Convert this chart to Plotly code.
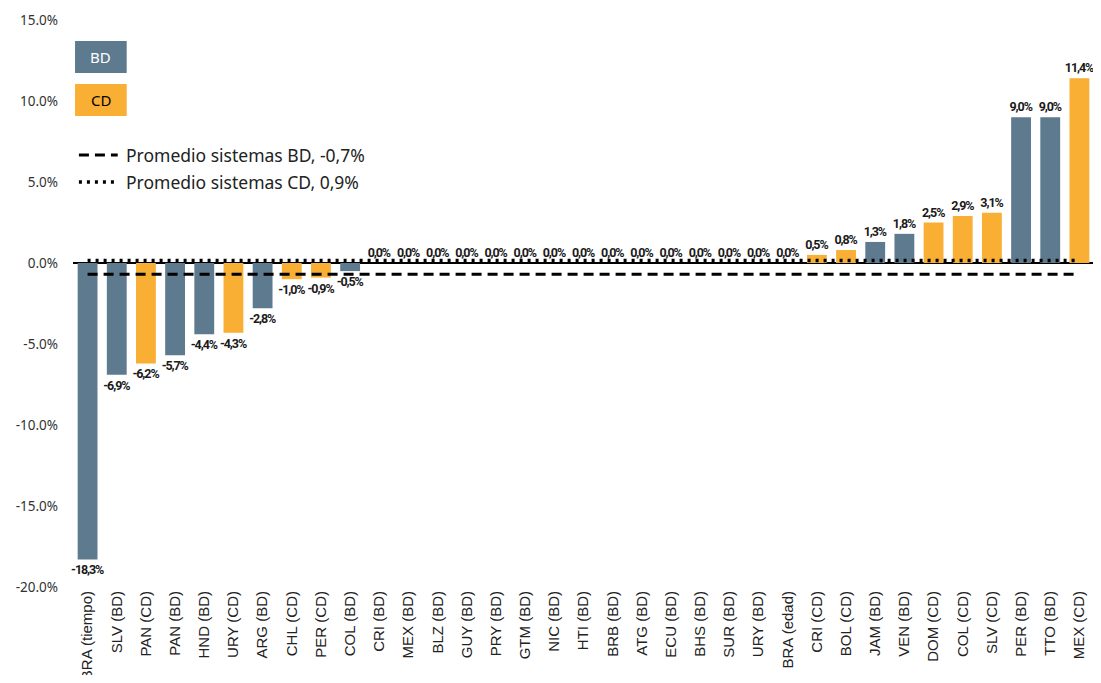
import plotly.graph_objects as go

# ---- datos ----
paises = ["BRA (tiempo)", "SLV (BD)", "PAN (CD)", "PAN (BD)", "HND (BD)", "URY (CD)", "ARG (BD)",
          "CHL (CD)", "PER (CD)", "COL (BD)", "CRI (BD)", "MEX (BD)", "BLZ (BD)", "GUY (BD)",
          "PRY (BD)", "GTM (BD)", "NIC (BD)", "HTI (BD)", "BRB (BD)", "ATG (BD)", "ECU (BD)",
          "BHS (BD)", "SUR (BD)", "URY (BD)", "BRA (edad)", "CRI (CD)", "BOL (CD)", "JAM (BD)",
          "VEN (BD)", "DOM (CD)", "COL (CD)", "SLV (CD)", "PER (BD)", "TTO (BD)", "MEX (CD)"]
valores = [-18.3, -6.9, -6.2, -5.7, -4.4, -4.3, -2.8, -1.0, -0.9, -0.5,
           0.0, 0.0, 0.0, 0.0, 0.0, 0.0, 0.0, 0.0, 0.0, 0.0, 0.0, 0.0, 0.0, 0.0, 0.0,
           0.5, 0.8, 1.3, 1.8, 2.5, 2.9, 3.1, 9.0, 9.0, 11.4]
sistema = ["BD", "BD", "CD", "BD", "BD", "CD", "BD", "CD", "CD", "BD",
           "BD", "BD", "BD", "BD", "BD", "BD", "BD", "BD", "BD", "BD", "BD", "BD", "BD", "BD", "BD",
           "CD", "CD", "BD", "BD", "CD", "CD", "CD", "BD", "BD", "CD"]
promedio_bd = -0.7
nivel_linea_cd = 0.15   # posición en la que aparece dibujada la línea punteada
etiqueta_bd = "Promedio sistemas BD, -0,7%"
etiqueta_cd = "Promedio sistemas CD, 0,9%"
ticks_y = [-20, -15, -10, -5, 0, 5, 10, 15]

colores = {"BD": "#5e7a8f", "CD": "#f9ae34"}

# etiquetas con coma decimal, algo apretadas (la fuente original es condensada)
textos = ['<span style="letter-spacing:-1.1px">' + f"{v:.1f}%".replace(".", ",") + "</span>"
          for v in valores]

fig = go.Figure()

fig.add_trace(go.Bar(
    x=paises, y=valores,
    marker_color=[colores[s] for s in sistema],
    marker_line_width=0,
    text=textos, textposition="outside", textangle=0,
    constraintext="none", cliponaxis=False,
    textfont=dict(family="Roboto, Liberation Sans, sans-serif", size=12.5, color="#1a1a1a",
                  weight="bold"),
    showlegend=False, hoverinfo="x+y",
))

fig.add_trace(go.Scatter(
    x=paises, y=[promedio_bd] * len(paises), mode="lines",
    line=dict(color="black", width=3, dash="10px,6px"),
    showlegend=False, hoverinfo="skip",
))
fig.add_trace(go.Scatter(
    x=paises, y=[nivel_linea_cd] * len(paises), mode="lines",
    line=dict(color="black", width=3.5, dash="3px,5px"),
    showlegend=False, hoverinfo="skip",
))

# leyenda manual
for y0, y1, nombre, col_txt in [(0.9065, 0.963, "BD", "white"), (0.8307, 0.887, "CD", "black")]:
    fig.add_shape(type="rect", xref="paper", yref="paper", x0=0.002, x1=0.0526, y0=y0, y1=y1,
                  fillcolor=colores[nombre], line_width=0, layer="above")
    fig.add_annotation(xref="paper", yref="paper", x=0.0273, y=(y0 + y1) / 2, text=nombre,
                       xanchor="center", yanchor="middle", showarrow=False,
                       font=dict(family="Noto Sans", size=15, color=col_txt))

for yy, dash, w, txt in [(0.7619, "10px,6px", 3, etiqueta_bd), (0.7143, "3px,5px", 3.5, etiqueta_cd)]:
    fig.add_shape(type="line", xref="paper", yref="paper", x0=0.0058, x1=0.0438, y0=yy, y1=yy,
                  line=dict(color="black", width=w, dash=dash))
    fig.add_annotation(xref="paper", yref="paper", x=0.0497, y=yy, text=txt,
                       xanchor="left", yanchor="middle", showarrow=False,
                       font=dict(family="Noto Sans", size=17.5, color="#222222"))

# la página deja 8px de margen en el body: se compensa aquí (sin barra de scroll)
fig.update_layout(
    width=1093, height=667,
    margin=dict(l=65, r=7, t=12, b=88),
    plot_bgcolor="white", paper_bgcolor="white",
    bargap=0.32,
)
fig.update_xaxes(
    tickangle=-90, showgrid=False, showline=False, automargin=False,
    tickfont=dict(family="Liberation Sans, Arial, sans-serif", size=15, color="#222222"),
)
fig.update_yaxes(
    range=[-20, 15], tickvals=ticks_y, ticktext=[f"{t:.1f}%" for t in ticks_y],
    showgrid=False, showline=False, automargin=False,
    zeroline=True, zerolinecolor="black", zerolinewidth=1.5,
    ticklabelstandoff=14,
    tickfont=dict(family="Noto Sans", size=13.5, color="#333333"),
)

fig.write_html("out.html")
